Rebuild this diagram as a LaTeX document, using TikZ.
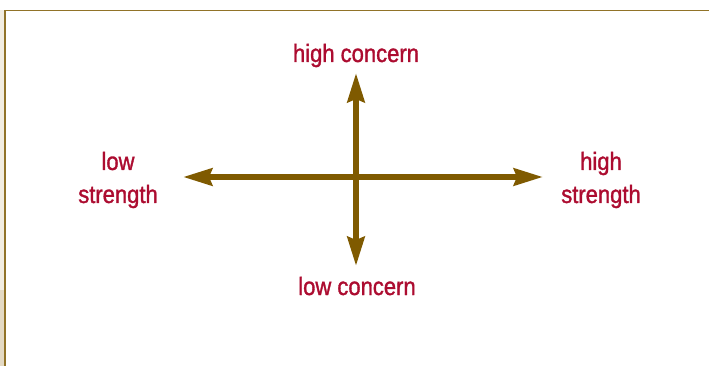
\documentclass[tikz,border=0pt]{standalone}
\usepackage{fontspec}
\setmainfont[FakeStretch=0.88,FakeBold=1.3]{Liberation Sans}
\usetikzlibrary{arrows.meta}
\definecolor{axisbrown}{RGB}{127,90,0}
\definecolor{framegold}{RGB}{145,115,40}
\definecolor{labelred}{RGB}{172,12,48}
\definecolor{stripbeige}{RGB}{228,218,196}
\definecolor{stripfaint}{RGB}{242,237,225}
\begin{document}
\begin{tikzpicture}[x=1pt,y=-1pt,
    axis/.style={line width=6pt,color=axisbrown,-{Stealth[length=29pt,width=17pt,inset=3pt]}},
    label/.style={inner sep=0pt,text=labelred,align=center,font=\fontsize{25}{33}\selectfont}]
    \useasboundingbox (0,0) rectangle (709,366);
    % frame
    \fill [stripfaint] (0,10) rectangle (4,290);
    \fill [stripbeige] (0,290) rectangle (4,366);
    \draw [framegold,line width=1.5pt] (5,366) -- (5,10.5) -- (709,10.5);
    % labels
    \node [label,anchor=base] (hc) at (356,62) {high concern};
    \node [label,anchor=base] (lc) at (357,295) {low concern};
    \node [label] (ls) at (118,180) {low\\strength};
    \node [label] (hs) at (601,180) {high\\strength};
    % axes
    \coordinate (o) at (356,177);
    \coordinate (top) at (356,73);
    \coordinate (bot) at (356,266);
    \coordinate (lft) at (183,177);
    \coordinate (rgt) at (543,177);
    \draw [axis] (o) -- (top);\draw [axis] (o) -- (bot);
    \draw [axis] (o) -- (lft);\draw [axis] (o) -- (rgt);
\end{tikzpicture}
\end{document}
